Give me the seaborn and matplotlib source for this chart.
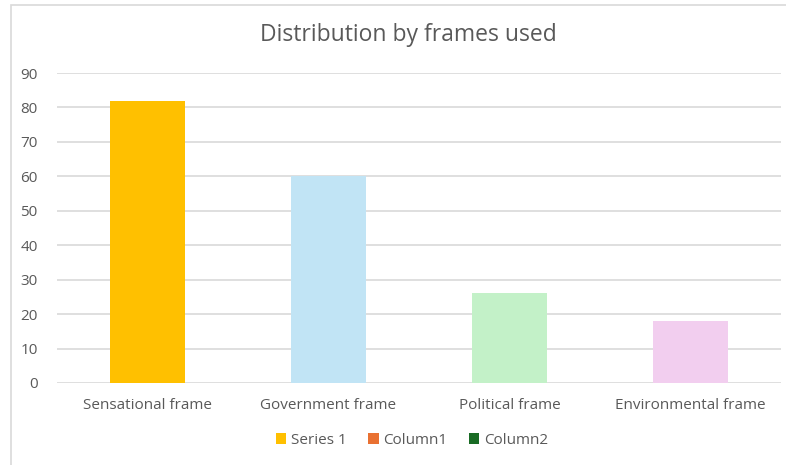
import matplotlib
matplotlib.use("Agg")
import matplotlib.pyplot as plt
from matplotlib.patches import Patch, Rectangle
import seaborn as sns
import pandas as pd

categories = ["Sensational frame", "Government frame", "Political frame", "Environmental frame"]
values = [82, 60, 26, 18]
bar_colors = ["#FFC000", "#C1E4F5", "#C3F1C8", "#F2CEEF"]
legend_labels = ["Series 1", "Column1", "Column2"]
legend_colors = ["#FFC000", "#E97132", "#196B24"]
y_ticks = list(range(0, 91, 10))

sns.set_theme(style="white")
plt.rcParams["font.family"] = ["Open Sans", "DejaVu Sans"]

text_color = "#595959"
grid_color = "#D9D9D9"

df = pd.DataFrame({"frame": categories, "count": values})

fig = plt.figure(figsize=(7.86, 4.65), dpi=100)
fig.patch.set_facecolor("white")

# chart area border
fig.add_artist(Rectangle((11 / 786, -0.05), 1.2, (465 - 5) / 465 + 0.05,
                         transform=fig.transFigure, fill=False,
                         edgecolor="#D9D9D9", linewidth=1.2))

ax = fig.add_axes([57 / 786, 1 - 383 / 465, (781 - 57) / 786, (383 - 73) / 465])
sns.barplot(data=df, x="frame", y="count", hue="frame", palette=bar_colors,
            width=0.41, legend=False, ax=ax, saturation=1, linewidth=0)

ax.set_ylim(0, 90)
ax.set_xlim(-0.5, len(categories) - 0.5)
ax.set_yticks(y_ticks)
ax.set_yticklabels([str(t) for t in y_ticks])
ax.yaxis.grid(True, color=grid_color, linewidth=1.2)
ax.set_axisbelow(True)
for s in ax.spines.values():
    s.set_visible(False)
ax.set_xlabel("")
ax.set_ylabel("")
ax.tick_params(axis="both", length=0, colors=text_color, labelsize=11)
ax.tick_params(axis="y", pad=14)
ax.tick_params(axis="x", pad=11)

fig.text(0.519, 1 - 35 / 465, "Distribution by frames used", ha="center", va="center",
         fontsize=16.5, color=text_color)

handles = [Patch(facecolor=c, edgecolor="none") for c in legend_colors]
fig.legend(handles, legend_labels, loc="center", bbox_to_anchor=(0.524, 1 - 440 / 465),
           ncol=3, frameon=False, fontsize=11, labelcolor=text_color,
           handlelength=0.7, handleheight=0.7, handletextpad=0.3, columnspacing=1.4)

fig.savefig("out.png", dpi=100, facecolor="white")
